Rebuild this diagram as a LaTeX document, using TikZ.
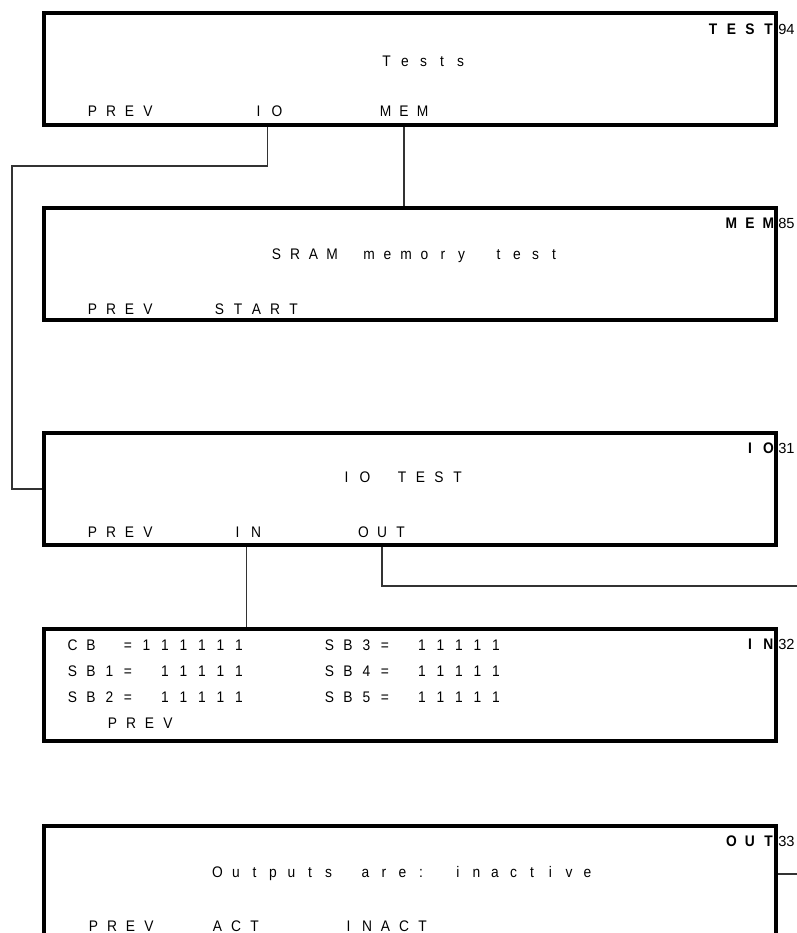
\documentclass[tikz,border=0pt]{standalone}
\usepackage{fontspec}
\setmainfont{Liberation Sans}
\newfontfamily\lcdfont[FakeStretch=0.9]{Liberation Sans}
\usetikzlibrary{positioning}

% one character per display cell
\ExplSyntaxOn
\dim_new:N \l_lcd_cell_dim
\dim_set:Nn \l_lcd_cell_dim {13.875pt}
\NewDocumentCommand \lcd { m }
  { \str_map_inline:nn {#1} { \makebox[\l_lcd_cell_dim][c]{##1} } }
\ExplSyntaxOff

\tikzset{
  scr/.style={draw, line width=2.4pt, minimum width=549pt, minimum height=84pt, inner sep=0pt},
  softkey/.style={font=\lcdfont\fontsize{11.5}{13}\selectfont, anchor=west, inner sep=0pt, text height=8.2pt, text depth=0pt},
  ttl/.style={softkey},
  tag/.style={softkey, font=\lcdfont\fontsize{11.5}{13}\selectfont\bfseries, anchor=east},
  num/.style={font=\fontsize{11}{13}\selectfont, anchor=west, inner sep=0pt, text height=8pt, text depth=0pt},
  wire/.style={line width=0.9pt, black!80}
}

\begin{document}
\begin{tikzpicture}[x=0.75pt, y=-0.75pt]
  \path[use as bounding box, clip] (0,0) rectangle (797,933);

  % Tests
  \begin{scope}[shift={(0,13)}]
    \draw (410,56) node[scr] (T) {};
    \draw (778,16) node[tag] (T0) {\lcd{TEST}} (778,16) node[num] (Tn) {94};
    \draw (377,48) node[ttl] (Tt) {\lcd{Tests}};
    \draw (83,98) node[softkey] (T1) {\lcd{PREV}} (249,98) node[softkey] (T2) {\lcd{IO}} (376,98) node[softkey] (T3) {\lcd{MEM}};
  \end{scope}

  % SRAM memory test
  \begin{scope}[shift={(0,208)}]
    \draw (410,56) node[scr] (M) {};
    \draw (778,15) node[tag] (M0) {\lcd{MEM}} (778,15) node[num] (Mn) {85};
    \draw (267,46) node[ttl] (Mt) {\lcd{SRAM memory test}};
    \draw (83,101) node[softkey] (M1) {\lcd{PREV}} (210,101) node[softkey] (M2) {\lcd{START}};
  \end{scope}

  % IO test
  \begin{scope}[shift={(0,433)}]
    \draw (410,56) node[scr] (I) {};
    \draw (778,15) node[tag] (I0) {\lcd{IO}} (778,15) node[num] (In) {31};
    \draw (337,44) node[ttl] (It) {\lcd{IO TEST}};
    \draw (83,99) node[softkey] (I1) {\lcd{PREV}} (228,99) node[softkey] (I2) {\lcd{IN}} (354,99) node[softkey] (I3) {\lcd{OUT}};
  \end{scope}

  % inputs
  \begin{scope}[shift={(0,629)}]
    \draw (410,56) node[scr] (N) {};
    \draw (778,15) node[tag] (N0) {\lcd{IN}} (778,15) node[num] (Nn) {32};
    \draw (63,16) node[softkey] (N1) {\lcd{CB =111111}} (320,16) node[softkey] (N4) {\lcd{SB3= 11111}};
    \draw (63,42) node[softkey] (N2) {\lcd{SB1= 11111}} (320,42) node[softkey] (N5) {\lcd{SB4= 11111}};
    \draw (63,68) node[softkey] (N3) {\lcd{SB2= 11111}} (320,68) node[softkey] (N6) {\lcd{SB5= 11111}};
    \draw (103,94) node[softkey] (N7) {\lcd{PREV}};
  \end{scope}

  % outputs
  \begin{scope}[shift={(0,826)}]
    \draw (410,56) node[scr] (O) {};
    \draw (778,15) node[tag] (O0) {\lcd{OUT}} (778,15) node[num] (On) {33};
    \draw (208,46) node[ttl] (Ot) {\lcd{Outputs are: inactive}};
    \draw (84,100) node[softkey] (O1) {\lcd{PREV}} (208,100) node[softkey] (O2) {\lcd{ACT}} (339,100) node[softkey] (O3) {\lcd{INACT}};
  \end{scope}

  \coordinate (c1) at (12,166);
  \coordinate (c2) at (805,586);
  \coordinate (c3) at (805,874);
  \draw[wire] (T2.south |- T.south) |- (c1) |- (I.west);
  \draw[wire] (T3.south |- T.south) -- (T3.south |- M.north);
  \draw[wire] (I2.south |- I.south) -- (I2.south |- N.north);
  \draw[wire] (I3.south |- I.south) |- (c2) -- (c3) -- (c3 -| O.east);
\end{tikzpicture}
\end{document}
